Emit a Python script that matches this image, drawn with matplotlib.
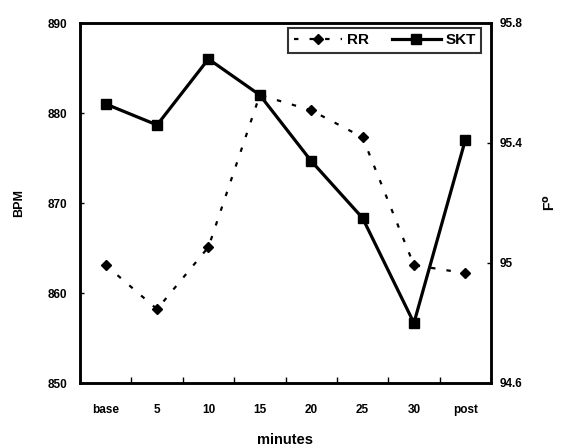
import matplotlib
matplotlib.use("Agg")
import matplotlib.pyplot as plt
from matplotlib.ticker import FixedLocator

plt.rcParams['font.family'] = ['Liberation Sans', 'DejaVu Sans']
plt.rcParams['font.weight'] = 'bold'

categories = ["base", "5", "10", "15", "20", "25", "30", "post"]
rr_values = [863.1, 858.2, 865.1, 882.0, 880.3, 877.3, 863.1, 862.2]
skt_values = [95.53, 95.46, 95.68, 95.56, 95.34, 95.15, 94.80, 95.41]
left_ticks = [850, 860, 870, 880, 890]
right_ticks = [94.6, 95.0, 95.4, 95.8]
right_tick_labels = ["94.6", "95", "95.4", "95.8"]

fig = plt.figure(figsize=(5.61, 4.46), dpi=100)
ax = fig.add_axes([80/561, 1 - 383/446, 411/561, 360/446])
ax2 = ax.twinx()

x = list(range(len(categories)))
l1, = ax.plot(x, rr_values, color='black', linestyle=(0, (2, 5)), linewidth=1.6,
              marker='D', markersize=5.5, label='RR')
l2, = ax2.plot(x, skt_values, color='black', linestyle='-', linewidth=2.3,
               marker='s', markersize=7, label='SKT')

ax.set_xlim(-0.5, len(categories) - 0.5)
ax.set_ylim(850, 890)
ax2.set_ylim(94.6, 95.8)

ax.set_xticks(x)
ax.set_xticklabels(categories, fontsize=8.5, fontweight='bold')
ax.xaxis.set_minor_locator(FixedLocator([i + 0.5 for i in range(len(categories) - 1)]))
ax.tick_params(axis='x', which='major', length=0, pad=15)
ax.tick_params(axis='x', which='minor', length=4, width=1, direction='in')

ax.set_yticks(left_ticks)
ax.set_yticklabels([str(v) for v in left_ticks], fontsize=8.5, fontweight='bold')
ax.tick_params(axis='y', length=3, width=1, direction='in', pad=9)

ax2.set_yticks(right_ticks)
ax2.set_yticklabels(right_tick_labels, fontsize=8.5, fontweight='bold')
ax2.tick_params(axis='y', length=3, width=1, direction='in', pad=6)

for a in (ax, ax2):
    for s in a.spines.values():
        s.set_linewidth(1.8)

ax.set_xlabel("minutes", fontsize=10.5, fontweight='bold', labelpad=12)
ax.set_ylabel("BPM", fontsize=9, fontweight='bold', labelpad=16)
ax2.set_ylabel("F$^{\\mathbf{o}}$", fontsize=10, fontweight='bold', labelpad=14)

leg = ax2.legend([l1, l2], ['RR', 'SKT'], loc='upper right',
                 bbox_to_anchor=(0.976, 0.986), ncol=2, borderaxespad=0,
                 prop={'weight': 'bold', 'size': 11}, frameon=True, fancybox=False,
                 handlelength=3.2, columnspacing=1.5, handletextpad=0.3,
                 borderpad=0.35)
leg.get_frame().set_edgecolor('black')
leg.get_frame().set_linewidth(1.5)

fig.savefig("out.png", dpi=100)
